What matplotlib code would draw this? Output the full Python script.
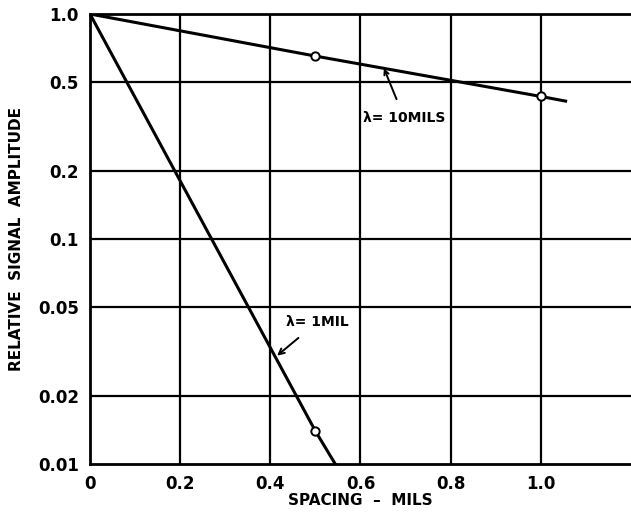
import numpy as np
import matplotlib.pyplot as plt

# spacing (mils) and relative amplitude
x_10 = [0.0, 0.5, 1.0, 1.055]
y_10 = [1.0, 0.65, 0.43, 0.41]
pts_10_x = [0.5, 1.0]
pts_10_y = [0.65, 0.43]

x_1 = [0.0, 0.5, 0.544]
y_1 = [1.0, 0.014, 0.01]
pts_1_x = [0.5]
pts_1_y = [0.014]

yticks = [0.01, 0.02, 0.05, 0.1, 0.2, 0.5, 1.0]
ytick_labels = ['0.01', '0.02', '0.05', '0.1', '0.2', '0.5', '1.0']
xticks = [0, 0.2, 0.4, 0.6, 0.8, 1.0]
xtick_labels = ['0', '0.2', '0.4', '0.6', '0.8', '1.0']
xgrid = [0.2, 0.4, 0.6, 0.8, 1.0]

plt.rcParams['font.family'] = ['DejaVu Sans']
plt.rcParams['font.weight'] = 'bold'

fig = plt.figure(figsize=(6.31, 5.14), dpi=100)
ax = fig.add_axes([0.1426, 0.0973, 0.8574, 0.8755])

ax.set_yscale('log')
ax.set_xlim(0, 1.2)
ax.set_ylim(0.01, 1.0)

for g in xgrid:
    ax.axvline(g, color='black', lw=1.6, zorder=1)
for g in yticks[1:-1]:
    ax.axhline(g, color='black', lw=1.6, zorder=1)

ax.plot(x_10, y_10, color='black', lw=2.2, zorder=3)
ax.plot(x_1, y_1, color='black', lw=2.2, zorder=3)
ax.plot(pts_10_x, pts_10_y, 'o', ms=6, mfc='white', mec='black', mew=1.4, zorder=4)
ax.plot(pts_1_x, pts_1_y, 'o', ms=6, mfc='white', mec='black', mew=1.4, zorder=4)

ax.annotate('λ= 10MILS', xy=(0.652, 0.573), xytext=(0.697, 0.345),
            fontsize=10, ha='center', va='center',
            arrowprops=dict(arrowstyle='->', color='black', lw=1.4,
                            mutation_scale=8, shrinkA=7, shrinkB=0))
ax.annotate('λ= 1MIL', xy=(0.415, 0.0303), xytext=(0.505, 0.0428),
            fontsize=10, ha='center', va='center',
            arrowprops=dict(arrowstyle='->', color='black', lw=1.4,
                            mutation_scale=10, shrinkA=7, shrinkB=0))

ax.set_yticks(yticks)
ax.set_yticklabels(ytick_labels)
ax.yaxis.set_minor_locator(plt.NullLocator())
ax.set_xticks(xticks)
ax.set_xticklabels(xtick_labels)
ax.tick_params(length=0, labelsize=12, pad=8)

ax.spines['right'].set_visible(False)
for s in ['left', 'bottom', 'top']:
    ax.spines[s].set_linewidth(2)

ax.set_xlabel('SPACING  –  MILS', fontsize=11, fontweight='bold', labelpad=0)
ax.set_ylabel('RELATIVE  SIGNAL  AMPLITUDE', fontsize=11, fontweight='bold', labelpad=10)

fig.savefig('out.png', dpi=100)
plt.close()
